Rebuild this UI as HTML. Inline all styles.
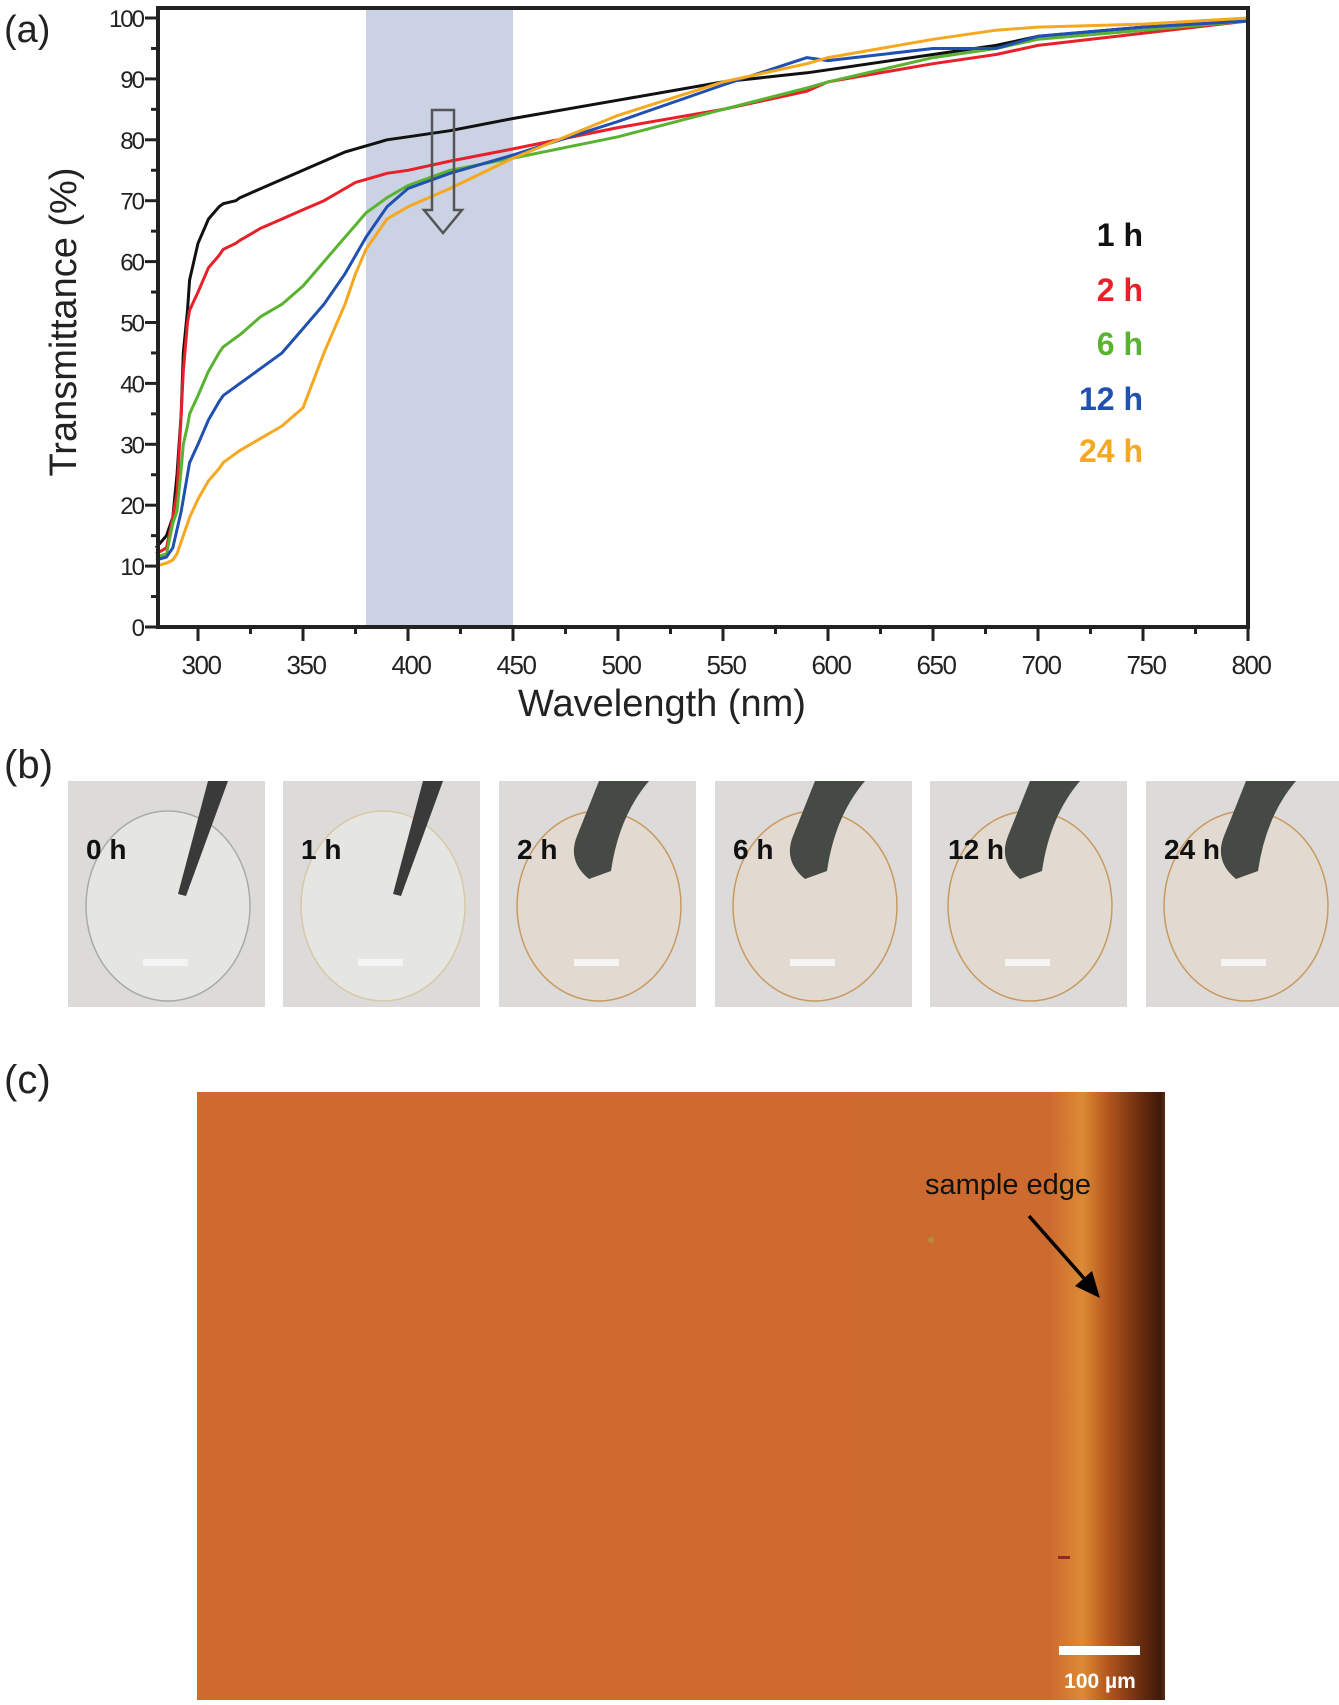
<!DOCTYPE html>
<html><head><meta charset="utf-8"><style>
html,body{margin:0;padding:0;background:#fff;}
body{width:1339px;height:1700px;position:relative;overflow:hidden;font-family:"Liberation Sans",sans-serif;}
svg text{font-family:"Liberation Sans",sans-serif;}
</style></head><body>
<svg id="fig" width="1339" height="1700" viewBox="0 0 1339 1700" xmlns="http://www.w3.org/2000/svg">
<defs>
<linearGradient id="edgeGrad" x1="0" x2="1" y1="0" y2="0">
<stop offset="0" stop-color="#cf6a30"/>
<stop offset="0.88" stop-color="#cd6a2f"/>
<stop offset="0.915" stop-color="#dc8a35"/>
<stop offset="0.94" stop-color="#b5581f"/>
<stop offset="0.975" stop-color="#6a2c10"/>
<stop offset="0.995" stop-color="#3f1a0b"/>
<stop offset="1" stop-color="#5a2a14"/>
</linearGradient>
</defs>
<text x="4" y="42" font-size="38" fill="#222">(a)</text>
<g id="chart"></g>
<text x="4" y="778" font-size="40" fill="#222">(b)</text>
<g id="photos"></g>
<text x="4" y="1093" font-size="40" fill="#222">(c)</text>
<g>
<rect x="197" y="1092" width="968" height="608" fill="url(#edgeGrad)"/>
<circle cx="931" cy="1240" r="3" fill="#b88a40"/>
<rect x="1058" y="1556" width="12" height="3" fill="#8a2a2a"/>
<text x="1008" y="1194" font-size="29" text-anchor="middle" fill="#111">sample edge</text>
<line x1="1029" y1="1216" x2="1089" y2="1284" stroke="#000" stroke-width="3.5"/>
<polygon points="1100,1298 1075,1286 1092,1271" fill="#000"/>
<rect x="1059" y="1646" width="81" height="9" fill="#fff"/>
<text x="1100" y="1688" font-size="21" font-weight="bold" text-anchor="middle" fill="#fff">100 µm</text>
</g>
</svg>
<script>
const NS='http://www.w3.org/2000/svg';
const wavelengths=[280,285,288,290,292,293,295,296,300,305,310,312,318,320,330,340,350,360,370,375,380,390,400,420,450,500,550,590,600,650,680,700,750,800];
const s1h=[13,15,18,25,35,45,52,57,63,67,69,69.5,70,70.5,72,73.5,75,76.5,78,78.5,79,80,80.5,81.5,83.5,86.5,89.5,91,91.5,94,95.5,97,98.5,99.5];
const s2h=[12,13,18,22,35,42,50,52,55,59,61,62,63,63.5,65.5,67,68.5,70,72,73,73.5,74.5,75,76.5,78.5,82,85,88,89.5,92.5,94,95.5,97.5,99.5];
const s6h=[11.5,12,17,19,26,30,33,35,38,42,45,46,47.5,48,51,53,56,60,64,66,68,70.5,72.5,75,77,80.5,85,88.5,89.5,93.5,95,96.5,98,99.5];
const s12h=[11,11.5,13,16,19,21,25,27,30,34,37,38,39.5,40,42.5,45,49,53,58,61,64,69,72,74.5,77.5,83,89,93.5,93,95,95,97,98.5,99.5];
const s24h=[10,10.5,11,12,14,15,17,18,21,24,26,27,28.5,29,31,33,36,45,53,58,62,67,69,72,77,84,89.5,92.5,93.5,96.5,98,98.5,99,100];
const seriesNames=['1 h','2 h','6 h','12 h','24 h'];
const seriesColors=['#111111','#e8202a','#5ab330','#2050b0','#f5a820'];
const xTicks=[300,350,400,450,500,550,600,650,700,750,800];
const yTicks=[0,10,20,30,40,50,60,70,80,90,100];
const band=[380,450];
const allSeries=[s1h,s2h,s6h,s12h,s24h];

const X=w=>198+(w-300)*(1050/500);
const Y=v=>627-v*6.09;
const chart=document.getElementById('chart');
function mk(tag,attrs,parent){const e=document.createElementNS(NS,tag);for(const k in attrs)e.setAttribute(k,attrs[k]);(parent||chart).appendChild(e);return e;}

let e=mk('rect',{x:X(band[0]),y:7,width:X(band[1])-X(band[0]),height:620,fill:'#cbd2e4'});



allSeries.forEach((s,i)=>{
  const d=s.map((v,j)=>(j?'L':'M')+X(wavelengths[j]).toFixed(1)+','+Y(v).toFixed(1)).join(' ');
  const p=mk('path',{d:d,fill:'none',stroke:seriesColors[i],'stroke-width':3,'stroke-linejoin':'round'});
  
  
});

e=mk('path',{d:'M432,110 L454,110 L454,210 L462,210 L443,233 L424,210 L432,210 Z',fill:'none',stroke:'#555','stroke-width':2.5});



e=mk('rect',{x:158,y:8,width:1090,height:619,fill:'none',stroke:'#222','stroke-width':4});



yTicks.forEach(v=>{
  const t=mk('line',{x1:145,x2:158,y1:Y(v),y2:Y(v),stroke:'#222','stroke-width':3});
  
  
  if(v<100){const m=mk('line',{x1:151,x2:158,y1:Y(v+5),y2:Y(v+5),stroke:'#222','stroke-width':3});
  
  }
  const l=mk('text',{x:143,y:Y(v)+9,'font-size':24,'text-anchor':'end',fill:'#222','letter-spacing':'-2'});
  l.textContent=v;
  
  
});
xTicks.forEach(v=>{
  const t=mk('line',{x1:X(v),x2:X(v),y1:627,y2:641,stroke:'#222','stroke-width':3});
  
  
  if(v<800){const m=mk('line',{x1:X(v+25),x2:X(v+25),y1:627,y2:634,stroke:'#222','stroke-width':3});
  
  }
  const l=mk('text',{x:X(v)+3,y:674,'font-size':26,'text-anchor':'middle',fill:'#222','letter-spacing':'-1.5'});
  l.textContent=v;
  
  
});
e=mk('text',{x:662,y:716,'font-size':38,'text-anchor':'middle',fill:'#222'});
e.textContent='Wavelength (nm)';


e=mk('text',{x:0,y:0,'font-size':38,'text-anchor':'middle',fill:'#222',transform:'translate(76,322) rotate(-90)'});
e.textContent='Transmittance (%)';


const legendY=[246,301,355,410,462];
seriesNames.forEach((n,i)=>{
  const t=mk('text',{x:1143,y:legendY[i],'font-size':32,'font-weight':'bold','text-anchor':'end',fill:seriesColors[i]});
  t.textContent=n;
  
  
});

// photos
const photoLabels=['0 h','1 h','2 h','6 h','12 h','24 h'];
const photoX=[68,283,499,715,930,1146];
const photos=document.getElementById('photos');
photoLabels.forEach((lab,i)=>{
  const g=mk('g',{},photos);
  
  
  const x0=photoX[i],w=Math.min(197,1339-x0),y0=781,h=226;
  mk('rect',{x:x0,y:y0,width:w,height:h,fill:'#dcdbd9'},g);
  const tint=i<2?'rgba(235,235,232,0.6)':'rgba(228,218,205,0.7)';
  const edge=i==0?'#aaa':(i==1?'#d8c8a8':'#c89a60');
  mk('ellipse',{cx:x0+100,cy:y0+125,rx:82,ry:95,fill:tint,stroke:edge,'stroke-width':1.5},g);
  mk('rect',{x:x0+75,y:y0+178,width:45,height:7,fill:'#f4f4f4'},g);
  if(i<2){
    mk('polygon',{points:`${x0+140},${y0} ${x0+160},${y0} ${x0+118},${y0+115} ${x0+110},${y0+113}`,fill:'#3a3a3a'},g);
  }else{
    mk('path',{d:`M${x0+100},${y0} L${x0+150},${y0} Q${x0+120},${y0+35} ${x0+112},${y0+90} L${x0+90},${y0+98} Q${x0+68},${y0+80} ${x0+78},${y0+55} Z`,fill:'#464a45'},g);
  }
  const t=mk('text',{x:x0+18,y:y0+78,'font-size':28,'font-weight':'bold',fill:'#111'},g);
  t.textContent=lab;
  
  
});
</script>
</body></html>
